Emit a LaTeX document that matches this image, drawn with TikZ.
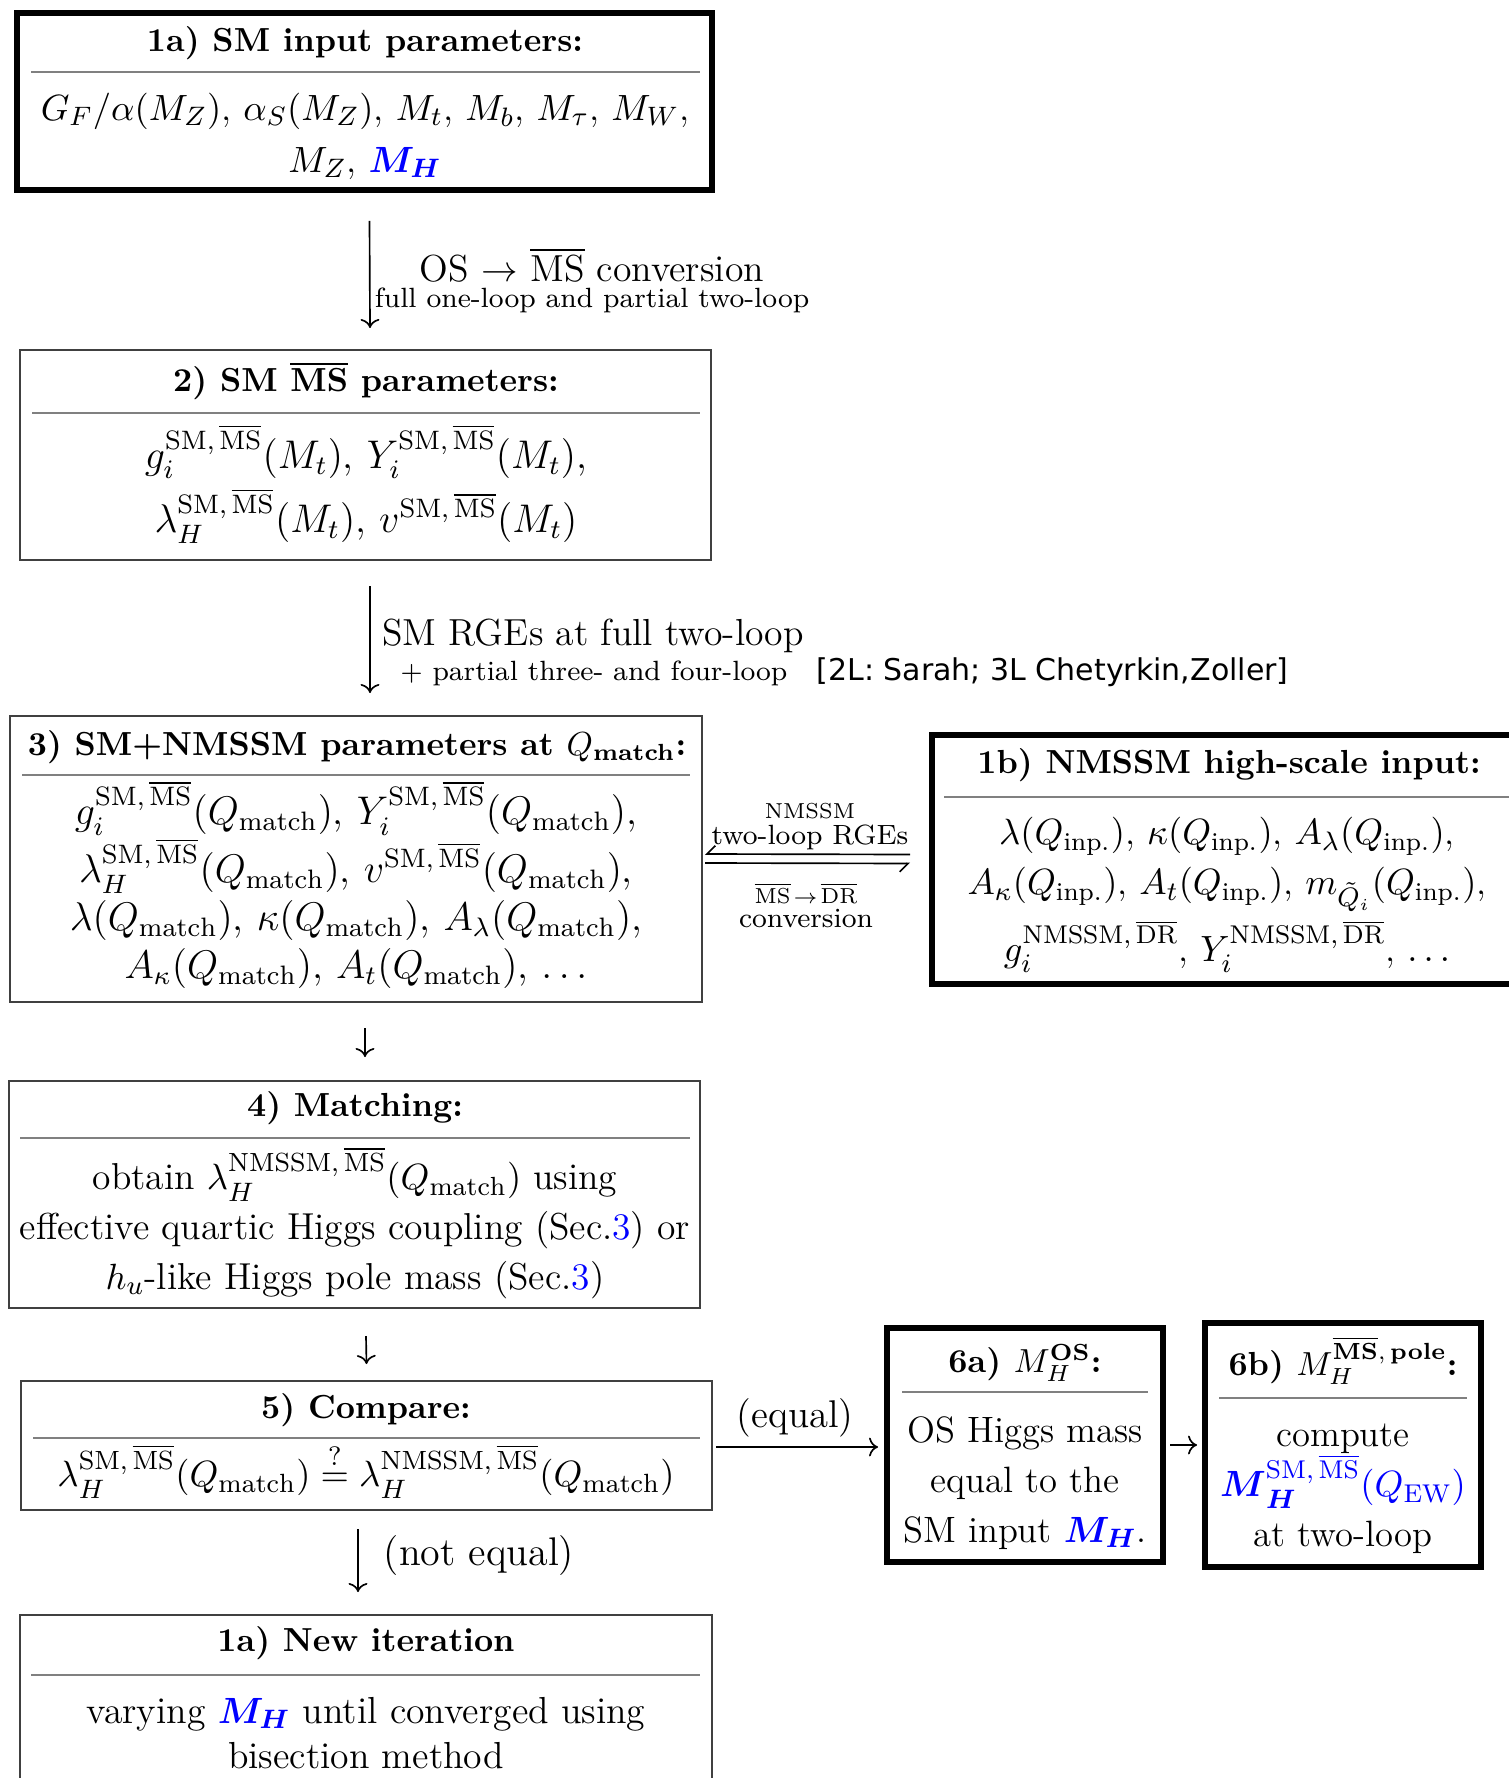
\documentclass[tikz,border=0pt]{standalone}
\usepackage{amsmath,amssymb}
\usepackage{fontspec}
\newfontfamily\notefont{DejaVu Sans}
\usetikzlibrary{positioning, arrows.meta, calc, fit}
\definecolor{hlblue}{rgb}{0,0,1}
\newcommand{\msb}{\overline{\mathrm{MS}}}
\newcommand{\drb}{\overline{\mathrm{DR}}}
\newcommand{\Qm}{Q_{\mathrm{match}}}
\newcommand{\Qi}{Q_{\mathrm{inp.}}}
\newcommand{\bMH}{\textcolor{hlblue}{$\boldsymbol{M_H}$}}

\begin{document}
\begin{tikzpicture}[x=0.3pt, y=-0.3pt, >={Computer Modern Rightarrow}]
\useasboundingbox (0,0) rectangle (1509,1778);
\tikzset{
    thickbox/.style={draw, line width=1.8pt, inner sep=0pt},
    thinbox/.style={draw=black!75, line width=0.6pt, inner sep=0pt},
    boxtitle/.style={font=\fontsize{10}{12}\selectfont\bfseries},
    boxbody/.style 2 args={align=center, font=\fontsize{#1}{#2}\selectfont},
    seprule/.style={draw=black!50, line width=0.5pt},
    flow/.style={->, line width=0.5pt},
    arrowlbl/.style={font=\fontsize{11.3}{13}\selectfont, inner sep=0pt},
    smalllbl/.style={font=\fontsize{8.35}{10}\selectfont, inner sep=0pt},
    tinylbl/.style={font=\fontsize{6.5}{8}\selectfont, inner sep=0pt},
    citelbl/.style={font=\fontsize{9}{11}\notefont, inner sep=0pt}
}
% boxes
\node[thickbox, fit={(17,13) (712,190)}] (b1a) {};
\node[thinbox, fit={(20,350) (711,560)}] (b2) {};
\node[thinbox, fit={(10,716) (702,1002)}] (b3) {};
\node[thickbox, fit={(932,735) (1528,984)}] (b1b) {};
\node[thinbox, fit={(9,1081) (700,1308)}] (b4) {};
\node[thinbox, fit={(21,1381) (712,1510)}] (b5) {};
\node[thickbox, fit={(887,1328) (1163,1562)}] (b6a) {};
\node[thickbox, fit={(1205,1323) (1481,1567)}] (b6b) {};
\node[thinbox, fit={(20,1615) (712,1820)}] (b7) {};

% separators
\draw[seprule] (31,72) -- (700,72);
\draw[seprule] (32,413) -- (700,413);
\draw[seprule] (22,775) -- (690,775);
\draw[seprule] (944,797) -- (1515,797);
\draw[seprule] (20,1138) -- (690,1138);
\draw[seprule] (33,1438) -- (700,1438);
\draw[seprule] (902,1392) -- (1148,1392);
\draw[seprule] (1219,1398) -- (1467,1398);
\draw[seprule] (31,1675) -- (700,1675);

% titles
\node[boxtitle] (t1a) at (365,43) {1a) SM input parameters:};
\node[boxtitle] (t2) at (366,381) {2) SM $\overline{\textbf{MS}}$ parameters:};
\node[boxtitle] (t3) at (357,747) {3) SM+NMSSM parameters at $Q_{\textbf{match}}$:};
\node[boxtitle] (t1b) at (1229,765) {1b) NMSSM high-scale input:};
\node[boxtitle] (t4) at (355,1108) {4) Matching:};
\node[boxtitle] (t5) at (366,1410) {5) Compare:};
\node[boxtitle] (t6a) at (1025,1363) {6a) $M_H^{\textbf{OS}}$:};
\node[boxtitle] (t6b) at (1343,1361) {6b) $M_H^{\overline{\textbf{MS}},\,\textbf{pole}}$:};
\node[boxtitle] (t7) at (366,1643) {1a) New iteration};

% contents
\node[boxbody={11.1}{15.6}] (c1a) at (365,136)
    {$G_F/\alpha(M_Z)$, $\alpha_S(M_Z)$, $M_t$, $M_b$, $M_\tau$, $M_W$,\\ $M_Z$, \bMH};
\node[boxbody={12}{19.2}] (c2) at (366,484)
    {$g_i^{\mathrm{SM},\,\msb}(M_t)$, $Y_i^{\mathrm{SM},\,\msb}(M_t)$,\\
     $\lambda_H^{\mathrm{SM},\,\msb}(M_t)$, $v^{\mathrm{SM},\,\msb}(M_t)$};
\node[boxbody={12}{14.5}] (c3) at (356,885)
    {$g_i^{\mathrm{SM},\,\msb}(\Qm)$, $Y_i^{\mathrm{SM},\,\msb}(\Qm)$,\\
     $\lambda_H^{\mathrm{SM},\,\msb}(\Qm)$, $v^{\mathrm{SM},\,\msb}(\Qm)$,\\
     $\lambda(\Qm)$, $\kappa(\Qm)$, $A_\lambda(\Qm)$,\\
     $A_\kappa(\Qm)$, $A_t(\Qm)$, $\ldots$};
\node[boxbody={11}{15}] (c1b) at (1227,895)
    {$\lambda(\Qi)$, $\kappa(\Qi)$, $A_\lambda(\Qi)$,\\
     $A_\kappa(\Qi)$, $A_t(\Qi)$, $m_{\tilde{Q}_i}(\Qi)$,\\[1.6pt]
     $g_i^{\mathrm{NMSSM},\,\drb}$, $Y_i^{\mathrm{NMSSM},\,\drb}$, $\ldots$};
\node[boxbody={11.25}{15}] (c4) at (355,1223)
    {obtain $\lambda_H^{\mathrm{NMSSM},\,\msb}(\Qm)$ using\\
     effective quartic Higgs coupling (Sec.\textcolor{hlblue}{3}) or\\
     $h_u$-like Higgs pole mass (Sec.\textcolor{hlblue}{3})};
\node[boxbody={11.3}{15}] (c5) at (366,1471)
    {$\lambda_H^{\mathrm{SM},\,\msb}(\Qm) \overset{?}{=} \lambda_H^{\mathrm{NMSSM},\,\msb}(\Qm)$};
\node[boxbody={11}{15}] (c6a) at (1025,1483)
    {OS Higgs mass\\ equal to the\\ SM input \bMH.};
\node[boxbody={11}{15}] (c6b) at (1343,1489)
    {compute\\ \textcolor{hlblue}{$\boldsymbol{M}_{\boldsymbol{H}}^{\mathrm{SM},\,\msb}(Q_{\mathrm{EW}})$}\\ at two-loop};
\node[boxbody={11.3}{13.5}] (c7) at (366,1733)
    {varying \bMH{} until converged using\\ bisection method};

% arrow labels
\node[arrowlbl] (l1) at (592,265) {OS $\rightarrow$ $\msb$ conversion};
\node[smalllbl] (l1b) at (592,300) {full one-loop and partial two-loop};
\node[arrowlbl] (l2) at (593,636) {SM RGEs at full two-loop};
\node[smalllbl] (l2b) at (594,673) {$+$ partial three- and four-loop};
\node[citelbl, anchor=base west] (cite) at ($(l2b.base east)+(28,0)$) {[2L: Sarah; 3L Chetyrkin,Zoller]};
\node[tinylbl] (h1) at (810,811) {NMSSM};
\node[smalllbl] (h1b) at (810,837) {two-loop RGEs};
\node[tinylbl] (h2) at (806,893) {$\msb\!\to\!\drb$};
\node[smalllbl] (h2b) at (806,918) {conversion};
\node[arrowlbl, font=\fontsize{11.6}{13}\selectfont] (leq) at (795,1418) {(equal)};
\node[arrowlbl, font=\fontsize{12}{14}\selectfont] (lneq) at (479,1556) {(not equal)};

% connectors
\draw[flow] ($(b1a.south)+(5,28)$) -- ($(b2.north)+(4.5,-21)$);
\draw[flow] ($(b2.south)+(4.5,25)$) -- ($(b3.north)+(14,-22)$);
\draw[flow] ($(b3.south)+(9,25)$) -- ($(b4.north)+(10.5,-23)$);
\draw[flow] ($(b4.south)+(11.5,27)$) -- ($(b5.north)+(0,-16)$);
\draw[flow] ($(b5.south)+(-8.5,18)$) -- ($(b7.north)+(-8,-22)$);
\draw[flow] ($(b5.east)+(3,1.5)$) -- ($(b6a.west)+(-6,2)$);
\draw[flow] ($(b6a.east)+(4,0)$) -- ($(b6b.west)+(-5,0)$);
\draw[line width=0.5pt, -{Straight Barb[harpoon,swap]}] ($(b1b.west)+(-19,-5)$) -- ($(b3.east)+(2,-5)$);
\draw[line width=0.5pt, -{Straight Barb[harpoon,swap]}] ($(b3.east)+(2,4)$) -- ($(b1b.west)+(-19,4)$);
\end{tikzpicture}
\end{document}
